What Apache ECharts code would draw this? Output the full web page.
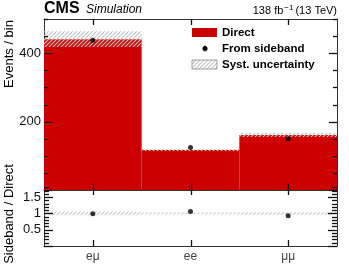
<!DOCTYPE html>
<html><head><meta charset="utf-8">
<script src="https://cdn.jsdelivr.net/npm/echarts@6/dist/echarts.min.js"></script>
<style>html,body{margin:0;padding:0;background:#fff}#c{width:349px;height:270px}</style>
</head><body><div id="c"></div>
<script>
const categories = ['eμ', 'ee', 'μμ'];
const directVals = [441, 117, 161];
const sidebandVals = [438, 124, 150];
const systErr = [23, 3, 6];
const mainTickLabels = [200, 400];
const ratioTickLabels = [0.5, 1, 1.5];

const ratioVals = sidebandVals.map((v, i) => v / directVals[i]);
const ratioErr = systErr.map((e, i) => e / directVals[i]);

function tickList(max, major, minor, majLen, minLen) {
  const out = [];
  const n = Math.round(max / minor);
  for (let k = 0; k <= n; k++) {
    const v = +(k * minor).toFixed(6);
    const isMaj = Math.abs(v / major - Math.round(v / major)) < 1e-6;
    out.push([v, isMaj ? majLen : minLen]);
  }
  return out;
}
const mainTicks = tickList(500, 200, 50, 8, 4);
const ratioTicks = tickList(1.75, 0.5, 0.1, 9, 5);

function hatch() {
  const cv = document.createElement('canvas');
  cv.width = 4; cv.height = 4;
  const g = cv.getContext('2d');
  g.strokeStyle = '#c4c4c4';
  g.lineWidth = 1.2;
  g.beginPath();
  g.moveTo(-1, 5); g.lineTo(5, -1);
  g.moveTo(-1, 1); g.lineTo(1, -1);
  g.moveTo(3, 5); g.lineTo(5, 3);
  g.stroke();
  return cv;
}
const pat = { image: hatch(), repeat: 'repeat' };
const FONT = 'Liberation Sans';
const AX = '#333';
const GL = 44, GW = 293;

function band(params, api) {
  const c = api.value(1), e = api.value(2);
  const t = api.coord([api.value(0), c + e]);
  const b = api.coord([api.value(0), c - e]);
  const w = api.size([1, 0])[0];
  return { type: 'rect', shape: { x: t[0] - w / 2, y: t[1], width: w, height: b[1] - t[1] }, style: { fill: pat } };
}

function xAx(grid, pos, labels) {
  return {
    type: 'category', data: categories, gridIndex: grid, position: pos, boundaryGap: true,
    axisLine: { show: true, onZero: false, lineStyle: { color: AX, width: 1 } },
    axisTick: { show: false },
    axisLabel: { show: labels, color: '#444', fontFamily: FONT, fontSize: 12, margin: 5 },
    splitLine: { show: false }
  };
}
function yAx(grid, pos, min, max, interval, labelsList) {
  return {
    type: 'value', gridIndex: grid, position: pos, min: min, max: max, interval: interval,
    axisLine: { show: true, onZero: false, lineStyle: { color: AX, width: 1 } },
    axisTick: { show: false },
    axisLabel: {
      show: !!labelsList, color: '#111', fontFamily: FONT, fontSize: 13, margin: 3,
      formatter: v => (labelsList && labelsList.some(l => Math.abs(l - v) < 1e-9)) ? String(v) : ''
    },
    splitLine: { show: false }
  };
}

const baseGraphic = [
  { type: 'text', left: 44, top: 1, style: { text: 'CMS', font: 'bold 16px "Liberation Sans"', fill: '#000' } },
  { type: 'text', left: 86, top: 4, style: { text: 'Simulation', font: 'italic 12px "Liberation Sans"', fill: '#000' } },
  { type: 'text', right: 12, top: 4, style: { rich: { a: { fontFamily: FONT, fontSize: 11, fill: '#000' }, s: { fontFamily: FONT, fontSize: 8, verticalAlign: 'top', padding: [0, 2, 6, 1] } }, text: '{a|138 fb}{s|−1}{a|(13 TeV)}' } },
  { type: 'rect', shape: { x: 192, y: 28, width: 25, height: 9 }, style: { fill: '#cc0000' } },
  { type: 'circle', shape: { cx: 205, cy: 48.5, r: 2.5 }, style: { fill: '#000' } },
  { type: 'line', shape: { x1: 205, y1: 45.5, x2: 205, y2: 51.5 }, style: { stroke: '#000', lineWidth: 1 } },
  { type: 'rect', shape: { x: 192, y: 60, width: 25, height: 9 }, style: { fill: pat, stroke: '#888', lineWidth: 0.8 } },
  { type: 'text', x: 222, y: 33, style: { text: 'Direct', font: 'bold 11.5px "Liberation Sans"', fill: '#000', textVerticalAlign: 'middle' } },
  { type: 'text', x: 222, y: 49, style: { text: 'From sideband', font: 'bold 11.5px "Liberation Sans"', fill: '#000', textVerticalAlign: 'middle' } },
  { type: 'text', x: 222, y: 65, style: { text: 'Syst. uncertainty', font: 'bold 11.5px "Liberation Sans"', fill: '#000', textVerticalAlign: 'middle' } },
  { type: 'text', x: 9, y: 54, rotation: Math.PI / 2, style: { text: 'Events / bin', font: '13px "Liberation Sans"', fill: '#000', textAlign: 'center', textVerticalAlign: 'middle' } },
  { type: 'text', x: 9, y: 214, rotation: Math.PI / 2, style: { text: 'Sideband / Direct', font: '13px "Liberation Sans"', fill: '#000', textAlign: 'center', textVerticalAlign: 'middle' } }
];

const chart = echarts.init(document.getElementById('c'));
const baseOption = {
  animation: false,
  backgroundColor: '#fff',
  grid: [
    { left: GL, top: 19, width: GW, height: 171 },
    { left: GL, top: 189, width: GW, height: 57 }
  ],
  xAxis: [xAx(0, 'bottom', false), xAx(0, 'top', false), xAx(1, 'bottom', true), xAx(1, 'top', false)],
  yAxis: [
    yAx(0, 'left', 0, 500, 200, mainTickLabels),
    yAx(0, 'right', 0, 500, 200, null),
    yAx(1, 'left', 0, 1.75, 0.5, ratioTickLabels),
    yAx(1, 'right', 0, 1.75, 0.5, null)
  ],
  series: [
    { type: 'bar', xAxisIndex: 0, yAxisIndex: 0, data: directVals, barWidth: '100%', barGap: '0%', barCategoryGap: '0%', itemStyle: { color: '#cc0000' }, z: 2 },
    { type: 'custom', xAxisIndex: 0, yAxisIndex: 0, renderItem: band, data: directVals.map((v, i) => [i, v, systErr[i]]), z: 3 },
    { type: 'scatter', xAxisIndex: 0, yAxisIndex: 0, data: sidebandVals, symbol: 'circle', symbolSize: 5, itemStyle: { color: '#000' }, z: 4 },
    { type: 'custom', xAxisIndex: 2, yAxisIndex: 2, renderItem: band, data: ratioVals.map((v, i) => [i, 1, ratioErr[i]]), z: 3 },
    { type: 'scatter', xAxisIndex: 2, yAxisIndex: 2, data: ratioVals, symbol: 'circle', symbolSize: 5, itemStyle: { color: '#000' }, z: 4 }
  ],
  graphic: baseGraphic
};
chart.setOption(baseOption);

// inward tick marks, positioned through the axes' own scales
const ticks = [];
try {
  const addY = (yi, list) => {
    list.forEach(([v, len]) => {
      const y = Math.round(chart.convertToPixel({ yAxisIndex: yi }, v)) + 0.5;
      ticks.push({ type: 'line', z: 200, zlevel: 1, shape: { x1: GL, y1: y, x2: GL + len, y2: y }, style: { stroke: '#111', lineWidth: 1.3 } });
      ticks.push({ type: 'line', z: 200, zlevel: 1, shape: { x1: GL + GW - len, y1: y, x2: GL + GW, y2: y }, style: { stroke: '#111', lineWidth: 1.3 } });
    });
  };
  const addX = (xi, yi, lo, hi) => {
    const yB = Math.round(chart.convertToPixel({ yAxisIndex: yi }, lo));
    const yT = Math.round(chart.convertToPixel({ yAxisIndex: yi }, hi));
    categories.forEach((c, i) => {
      const x = Math.round(chart.convertToPixel({ xAxisIndex: xi }, i)) + 0.5;
      ticks.push({ type: 'line', z: 200, zlevel: 1, shape: { x1: x, y1: yB, x2: x, y2: yB - 6 }, style: { stroke: '#111', lineWidth: 1.3 } });
      ticks.push({ type: 'line', z: 200, zlevel: 1, shape: { x1: x, y1: yT, x2: x, y2: yT + 6 }, style: { stroke: '#111', lineWidth: 1.3 } });
    });
  };
  addY(0, mainTicks);
  addY(2, ratioTicks);
  addX(0, 0, 0, 500);
  addX(2, 2, 0, 1.75);
} catch (e) { console.error(e); }
baseOption.graphic = baseGraphic.concat(ticks);
chart.setOption(baseOption, true);
</script></body></html>
